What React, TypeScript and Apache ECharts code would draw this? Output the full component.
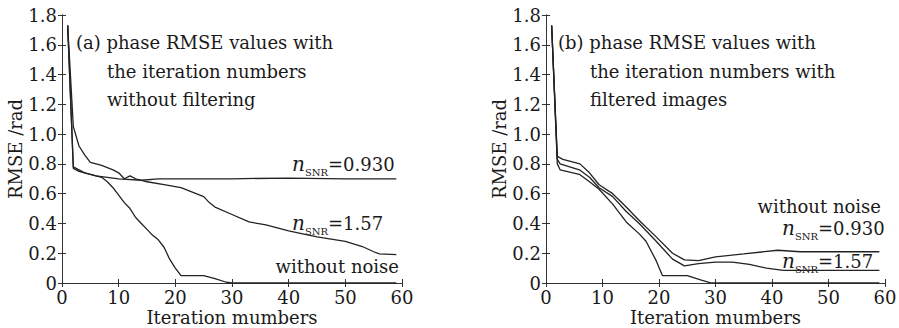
import React, { useEffect, useRef } from "react";
import * as echarts from "echarts";

// Panel (a): without filtering — [iteration, RMSE]
const aNoNoise: [number, number][] = [
  [1, 1.73], [2, 0.77], [3, 0.75], [5, 0.73], [7, 0.71], [8, 0.68], [9, 0.64], [10, 0.59],
  [11, 0.54], [12, 0.5], [13, 0.44], [14, 0.4], [15, 0.36], [16, 0.32], [17, 0.29], [18, 0.24],
  [19, 0.16], [20, 0.1], [21, 0.05], [25, 0.05], [27, 0.03], [29, 0.005], [30, 0], [59, 0],
];
const aSnr157: [number, number][] = [
  [1, 1.73], [2, 1.05], [3, 0.92], [4, 0.86], [5, 0.81], [7, 0.79], [9, 0.76], [10, 0.74],
  [11, 0.7], [12, 0.72], [13, 0.7], [15, 0.68], [18, 0.66], [21, 0.64], [23, 0.61], [25, 0.58],
  [26, 0.54], [27, 0.51], [30, 0.46], [33, 0.41], [36, 0.39], [40, 0.35], [45, 0.31], [50, 0.28],
  [53, 0.245], [55, 0.21], [56, 0.195], [59, 0.19],
];
const aSnr093: [number, number][] = [
  [1, 1.73], [2, 0.78], [3, 0.76], [4, 0.74], [6, 0.72], [8, 0.71], [10, 0.7], [14, 0.69],
  [17, 0.7], [30, 0.7], [40, 0.705], [50, 0.7], [59, 0.7],
];

// Panel (b): with filtered images — [iteration, RMSE]
const bSnr093: [number, number][] = [
  [1, 1.73], [2, 0.85], [3, 0.83], [6, 0.8], [7.7, 0.74], [9.4, 0.66], [11.8, 0.6], [14.2, 0.51],
  [16.5, 0.42], [19.5, 0.31], [22.4, 0.2], [24.5, 0.155], [27, 0.15], [30, 0.175], [35, 0.195],
  [41, 0.22], [45, 0.21], [59, 0.21],
];
const bSnr157: [number, number][] = [
  [1, 1.73], [2, 0.83], [2.5, 0.8], [5.9, 0.76], [7.7, 0.71], [9.4, 0.64], [11.8, 0.58],
  [14.2, 0.48], [16.5, 0.4], [19.5, 0.28], [22.4, 0.16], [24.5, 0.115], [27, 0.13], [30, 0.14],
  [33, 0.14], [36, 0.125], [39, 0.1], [42, 0.085], [59, 0.085],
];
const bNoNoise: [number, number][] = [
  [1, 1.73], [2, 0.8], [2.5, 0.76], [5.9, 0.73], [7.7, 0.68], [9.4, 0.63], [11.8, 0.53],
  [14.2, 0.41], [16.5, 0.33], [17.7, 0.28], [19.5, 0.15], [20.6, 0.05], [25, 0.05],
  [27.5, 0.02], [29, 0.003], [30, 0], [59, 0],
];

const xName = "Iteration mumbers";
const yName = "RMSE /rad";
const titleA = ["(a) phase RMSE values with", "the iteration numbers", "without filtering"];
const titleB = ["(b) phase RMSE values with", "the iteration numbers with", "filtered images"];

const FONT = "DejaVu Serif";
const INK = "#1a1a1a";

export default function App() {
  const ref = useRef<HTMLDivElement>(null);
  useEffect(() => {
    if (!ref.current) return;
    const chart = echarts.init(ref.current, null, { renderer: "svg" });

    const grids = [
      { left: 62, top: 15, width: 340, height: 268, outerBoundsMode: "none", containLabel: false },
      { left: 546, top: 15, width: 339, height: 268, outerBoundsMode: "none", containLabel: false },
    ];
    const xAxes: any[] = [];
    const yAxes: any[] = [];
    grids.forEach((_, g) => {
      const common = {
        gridIndex: g,
        type: "value",
        axisLine: { show: true, lineStyle: { color: "#333", width: 1 } },
        axisTick: { show: true, inside: true, length: 4, lineStyle: { color: "#333" } },
        splitLine: { show: false },
      };
      xAxes.push({
        ...common, position: "bottom", min: 0, max: 60, interval: 10,
        name: xName, nameLocation: "middle", nameGap: 24, nameMoveOverlap: false,
        nameTextStyle: { fontFamily: FONT, fontSize: 18, color: INK, lineHeight: 20 },
        axisLabel: { fontFamily: FONT, fontSize: 18, color: INK, margin: 5 },
      });
      xAxes.push({
        ...common, position: "top", min: 0, max: 60, interval: 10,
        axisLabel: { show: false },
      });
      yAxes.push({
        ...common, position: "left", min: 0, max: 1.8, interval: 0.2,
        name: yName, nameLocation: "middle", nameGap: 36,
        nameTextStyle: { fontFamily: FONT, fontSize: 18, color: INK },
        axisLabel: {
          fontFamily: FONT, fontSize: 18, color: INK, margin: 5,
          formatter: (v: number) => (v === 0 ? "0" : v.toFixed(1)),
        },
      });
      yAxes.push({
        ...common, position: "right", min: 0, max: 1.8, interval: 0.2,
        axisLabel: { show: false },
      });
    });

    const line = (data: [number, number][], g: number) => ({
      type: "line",
      xAxisIndex: g * 2,
      yAxisIndex: g * 2,
      data,
      showSymbol: false,
      symbol: "none",
      lineStyle: { color: "#222", width: 1.3 },
    });

    const txt = (text: string, x: number, y: number, align = "left") => ({
      type: "text",
      x, y,
      style: {
        text, fill: INK, font: `18px "${FONT}"`, align, verticalAlign: "middle",
      },
    });
    const snr = (val: string, x: number, y: number) => ({
      type: "text",
      x, y,
      style: {
        text: `{n|n}{s|SNR}{v|=${val}}`,
        align: "left",
        verticalAlign: "middle",
        rich: {
          n: { fontFamily: FONT, fontStyle: "italic", fontSize: 20, fill: INK, lineHeight: 26, verticalAlign: "middle" },
          s: { fontFamily: FONT, fontSize: 10, fill: INK, lineHeight: 26, verticalAlign: "bottom" },
          v: { fontFamily: FONT, fontSize: 18, fill: INK, lineHeight: 26, verticalAlign: "middle" },
        },
      },
    });

    chart.setOption({
      animation: false,
      grid: grids,
      xAxis: xAxes,
      yAxis: yAxes,
      series: [
        line(aNoNoise, 0), line(aSnr157, 0), line(aSnr093, 0),
        line(bSnr093, 1), line(bSnr157, 1), line(bNoNoise, 1),
      ],
      graphic: [
        txt(titleA[0], 76, 42), txt(titleA[1], 107, 71), txt(titleA[2], 107, 99),
        txt(titleB[0], 558, 42), txt(titleB[1], 590, 71), txt(titleB[2], 590, 99),
        snr("0.930", 292, 164), snr("1.57", 292, 223),
        txt("without noise", 399, 266, "right"),
        txt("without noise", 881, 206, "right"),
        snr("0.930", 782, 228), snr("1.57", 782, 261),
      ],
    });
    return () => chart.dispose();
  }, []);
  return (
    <div
      ref={ref}
      style={{ position: "absolute", left: 0, top: 0, width: 899, height: 328, background: "#fff" }}
    />
  );
}
